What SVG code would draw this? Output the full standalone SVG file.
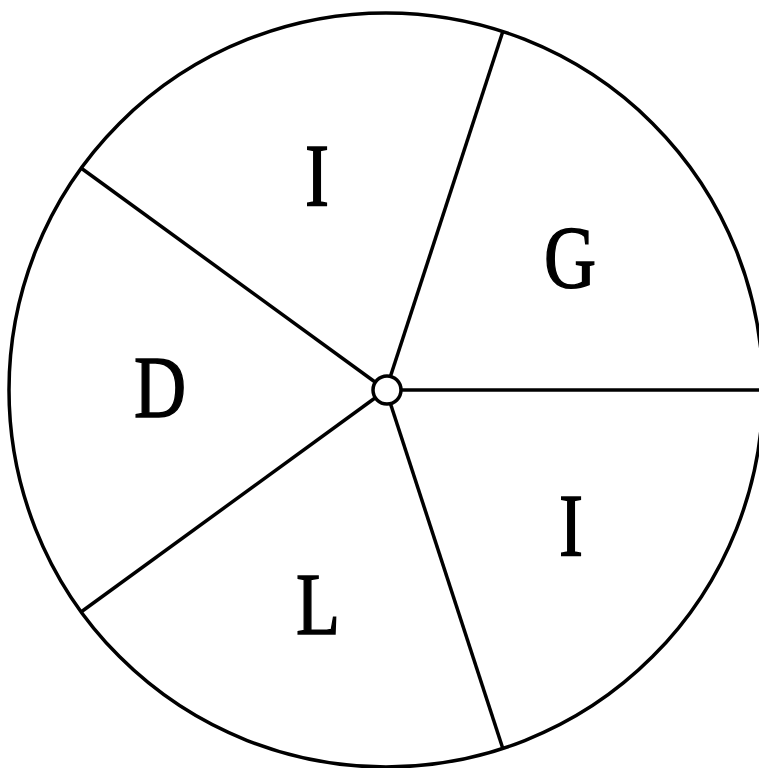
<svg xmlns="http://www.w3.org/2000/svg" width="759" height="768" viewBox="0 0 759 768">
<style>
.ln{stroke:#000;stroke-width:3.5;fill:none}
.lb{font-family:"Liberation Serif","Times New Roman",serif;font-size:88px;fill:#000;stroke:#000;stroke-width:1.5;text-anchor:middle}
</style>
<rect width="759" height="768" fill="#fff"/>
<g id="wheel">
<circle class="ln" cx="386" cy="390" r="377"/>
</g>
<g id="connectors">
<line class="ln" x1="386" y1="390" x2="503" y2="31"/>
<line class="ln" x1="386" y1="390" x2="763" y2="390"/>
<line class="ln" x1="386" y1="390" x2="503" y2="749"/>
<line class="ln" x1="386" y1="390" x2="81" y2="612"/>
<line class="ln" x1="386" y1="390" x2="81" y2="168"/>
</g>
<g id="hub">
<circle cx="387" cy="390" r="14" fill="#fff" stroke="#000" stroke-width="3.5"/>
</g>
<g id="seg-I-top"><text class="lb" transform="translate(317,205) scale(0.82,1)">I</text></g>
<g id="seg-G"><text class="lb" transform="translate(570,287) scale(0.82,1)">G</text></g>
<g id="seg-D"><text class="lb" transform="translate(160,417) scale(0.82,1)">D</text></g>
<g id="seg-I-bottom"><text class="lb" transform="translate(571,555) scale(0.82,1)">I</text></g>
<g id="seg-L"><text class="lb" transform="translate(318,634) scale(0.82,1)">L</text></g>
</svg>
